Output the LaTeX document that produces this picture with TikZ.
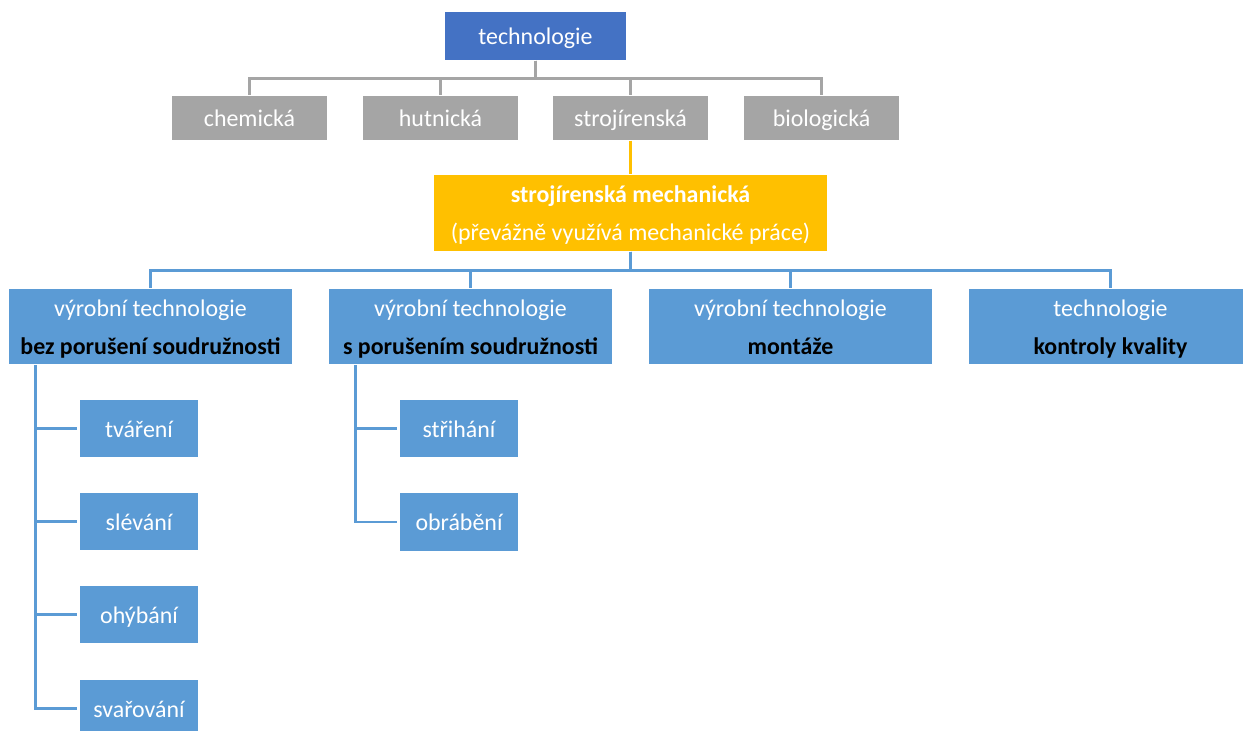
\documentclass[tikz,border=0pt]{standalone}
\usepackage{fontspec}
\setmainfont{Carlito}
\definecolor{techblue}{HTML}{4472C4}
\definecolor{boxgray}{HTML}{A5A5A5}
\definecolor{boxorange}{HTML}{FFC000}
\definecolor{boxblue}{HTML}{5B9BD5}
\newcommand{\sst}{\rule[-2.95pt]{0pt}{10.8pt}}
\begin{document}
\begin{tikzpicture}[x=0.01cm,y=-0.01cm,
  every node/.style={font=\fontsize{6.8}{10.8}\selectfont, inner sep=0pt, align=center, text=white},
  topbox/.style={fill=techblue, minimum width=1.81cm, minimum height=0.48cm},
  graybox/.style={fill=boxgray, minimum width=1.55cm, minimum height=0.44cm},
  orangebox/.style={fill=boxorange, minimum width=3.93cm, minimum height=0.74cm},
  bluebox/.style={fill=boxblue, minimum width=2.83cm, minimum height=0.75cm},
  leafbox/.style={fill=boxblue, minimum width=1.18cm, minimum height=0.57cm},
  grayline/.style={draw=boxgray, line width=0.7pt},
  orangeline/.style={draw=boxorange, line width=0.8pt},
  blueline/.style={draw=boxblue, line width=0.8pt}]
\useasboundingbox (0,0) rectangle (1243,731);
\clip (0,0) rectangle (1243,731);

% nodes
\node[topbox] (tech) at (535.5,36) {\sst technologie};
\node[graybox] (chem) at (249.5,118) {\sst chemická};
\node[graybox] (hut) at (440.5,118) {\sst hutnická};
\node[graybox] (stroj) at (630.5,118) {\sst strojírenská};
\node[graybox] (bio) at (821.5,118) {\sst biologická};
\node[orangebox] (mech) at (630.5,213) {\sst\textbf{strojírenská mechanická}\\\sst(převážně využívá mechanické práce)};
\node[bluebox] (bez) at (150.5,326.5) {\sst výrobní technologie\\\sst\textcolor{black}{\textbf{bez porušení soudružnosti}}};
\node[bluebox] (spor) at (470.5,326.5) {\sst výrobní technologie\\\sst\textcolor{black}{\textbf{s porušením soudružnosti}}};
\node[bluebox] (mont) at (790.5,326.5) {\sst výrobní technologie\\\sst\textcolor{black}{\textbf{montáže}}};
\node[bluebox] (kontr) at (1110.5,326.5) {\sst technologie\\\sst\textcolor{black}{\textbf{kontroly kvality}}};
\node[leafbox] (tvar) at (139,428.5) {\sst tváření};
\node[leafbox] (slev) at (139,521.5) {\sst slévání};
\node[leafbox] (ohyb) at (139,614.5) {\sst ohýbání};
\node[leafbox] (svar) at (139,708.5) {\sst svařování};
\node[leafbox] (strih) at (459,428.5) {\sst střihání};
\node[leafbox] (obr) at (459,522) {\sst obrábění};

% connectors
\foreach \t in {chem,hut,stroj,bio}
  \draw[grayline] (tech.south) -- ++(0,18) -| (\t.north);
\draw[orangeline] (stroj.south) -- (mech.north);
\foreach \t in {bez,spor,mont,kontr}
  \draw[blueline] (mech.south) -- ++(0,19) -| (\t.north);
\coordinate (bezstem) at ([xshift=0.27cm]bez.south west);
\foreach \t in {tvar,slev,ohyb,svar}
  \draw[blueline] (bezstem) |- ([xshift=-0.02cm]\t.west);
\coordinate (sporstem) at ([xshift=0.27cm]spor.south west);
\foreach \t in {strih,obr}
  \draw[blueline] (sporstem) |- ([xshift=-0.02cm]\t.west);
\end{tikzpicture}
\end{document}
